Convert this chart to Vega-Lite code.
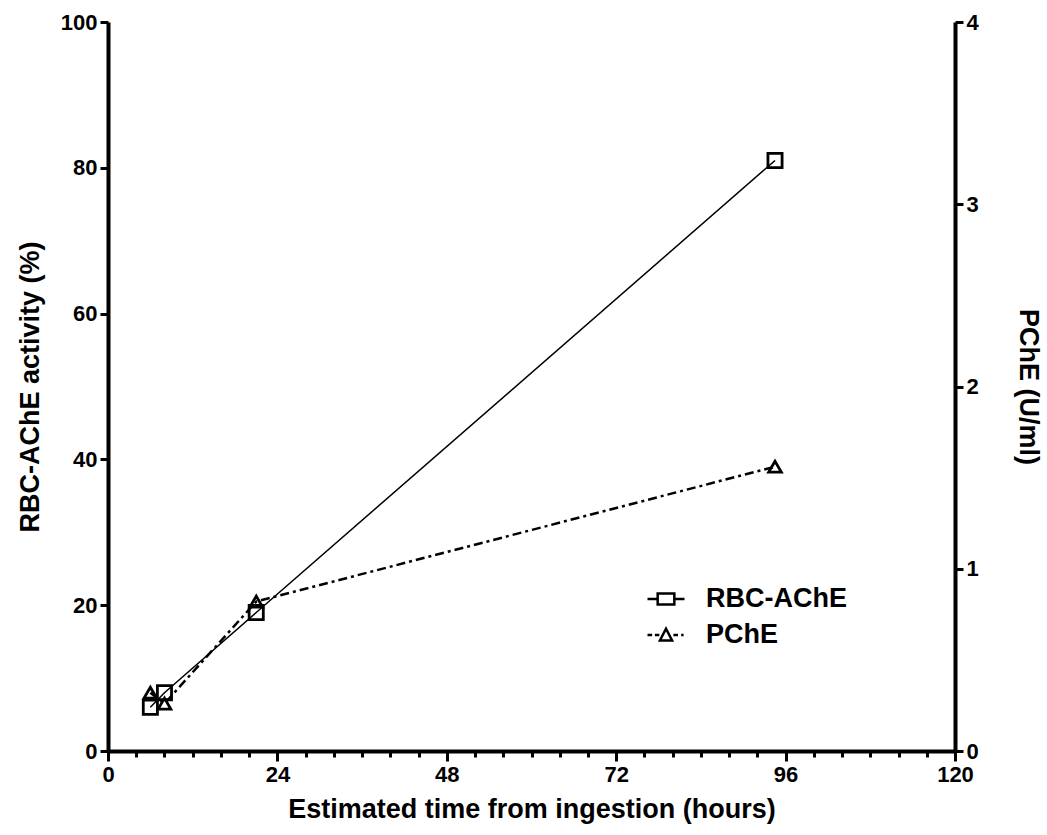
{
  "$schema": "https://vega.github.io/schema/vega-lite/v6.json",
  "width": 847,
  "height": 729,
  "autosize": {"type": "none"},
  "padding": {"left": 108, "top": 22, "right": 92, "bottom": 84},
  "background": "white",
  "config": {
    "view": {"stroke": null},
    "font": "Liberation Sans",
    "axis": {
      "grid": false,
      "domainColor": "black",
      "domainWidth": 4,
      "tickColor": "black",
      "tickWidth": 3,
      "labelFont": "Liberation Sans",
      "labelFontWeight": "bold",
      "labelFontSize": 22,
      "labelColor": "black",
      "titleFont": "Liberation Sans",
      "titleFontWeight": "bold",
      "titleFontSize": 27,
      "titleColor": "black",
      "labelOverlap": false,
      "labelBound": false,
      "labelFlush": false
    }
  },
  "data": {
    "values": [
      {"time": 6, "rbc": 6, "pche": 0.32},
      {"time": 8, "rbc": 8, "pche": 0.26},
      {"time": 21, "rbc": 19, "pche": 0.82},
      {"time": 94.5, "rbc": 81, "pche": 1.56}
    ]
  },
  "encoding": {
    "x": {
      "field": "time",
      "type": "quantitative",
      "scale": {"domain": [0, 120], "nice": false, "zero": false},
      "axis": {
        "title": "Estimated time from ingestion (hours)",
        "values": [0, 4, 8, 12, 16, 20, 24, 28, 32, 36, 40, 44, 48, 52, 56, 60, 64, 68, 72, 76, 80, 84, 88, 92, 96, 100, 104, 108, 112, 116, 120],
        "labelExpr": "datum.value % 24 === 0 ? datum.label : ''",
        "tickSize": {"condition": {"test": "datum.value % 24 === 0", "value": 10}, "value": 6},
        "labelPadding": 3,
        "titlePadding": 11
      }
    }
  },
  "layer": [
    {
      "layer": [
        {"mark": {"type": "line", "color": "black", "strokeWidth": 1.5}},
        {"mark": {"type": "point", "shape": "square", "filled": false, "color": "black", "size": 200, "strokeWidth": 2.8, "opacity": 1}}
      ],
      "encoding": {
        "y": {
          "field": "rbc",
          "type": "quantitative",
          "scale": {"domain": [0, 100], "nice": false},
          "axis": {"title": "RBC-AChE activity (%)", "orient": "left", "values": [0, 20, 40, 60, 80, 100], "tickSize": 8, "labelPadding": 3, "titlePadding": 16}
        }
      }
    },
    {
      "layer": [
        {"mark": {"type": "line", "color": "black", "strokeWidth": 2.5, "strokeDash": [9, 4, 3, 4]}},
        {"mark": {"type": "point", "shape": "triangle-up", "filled": false, "color": "black", "size": 160, "strokeWidth": 2.8, "opacity": 1}},
        {
          "transform": [{"filter": "false"}],
          "mark": {"type": "point", "filled": false, "color": "black", "opacity": 1, "strokeWidth": 2.5},
          "encoding": {
            "shape": {
              "datum": "RBC-AChE",
              "scale": {
                "domain": ["RBC-AChE", "PChE"],
                "range": [
                  "M-1,0H-0.45M0.45,0H1M-0.45,-0.3H0.45V0.3H-0.45Z",
                  "M-1,0H-0.75M-0.6,0H-0.36M0.4,0H0.65M0.82,0H0.95M-0.33,0.3L0,-0.34L0.33,0.3Z"
                ]
              },
              "legend": {
                "title": null,
                "orient": "none",
                "legendX": 538,
                "legendY": 557,
                "symbolSize": 1369,
                "symbolStrokeWidth": 2.5,
                "symbolStrokeColor": "black",
                "symbolFillColor": "transparent",
                "labelFont": "Liberation Sans",
                "labelFontWeight": "bold",
                "labelFontSize": 27,
                "labelColor": "black",
                "labelOffset": 20,
                "rowPadding": 3,
                "values": ["RBC-AChE", "PChE"]
              }
            }
          }
        }
      ],
      "encoding": {
        "y": {
          "field": "pche",
          "type": "quantitative",
          "scale": {"domain": [0, 4], "nice": false},
          "axis": {"title": "PChE (U/ml)", "orient": "right", "values": [0, 1, 2, 3, 4], "tickSize": 8, "labelPadding": 3, "titleAngle": 90, "titlePadding": 35}
        }
      }
    }
  ],
  "resolve": {"scale": {"y": "independent"}, "axis": {"y": "independent"}}
}
